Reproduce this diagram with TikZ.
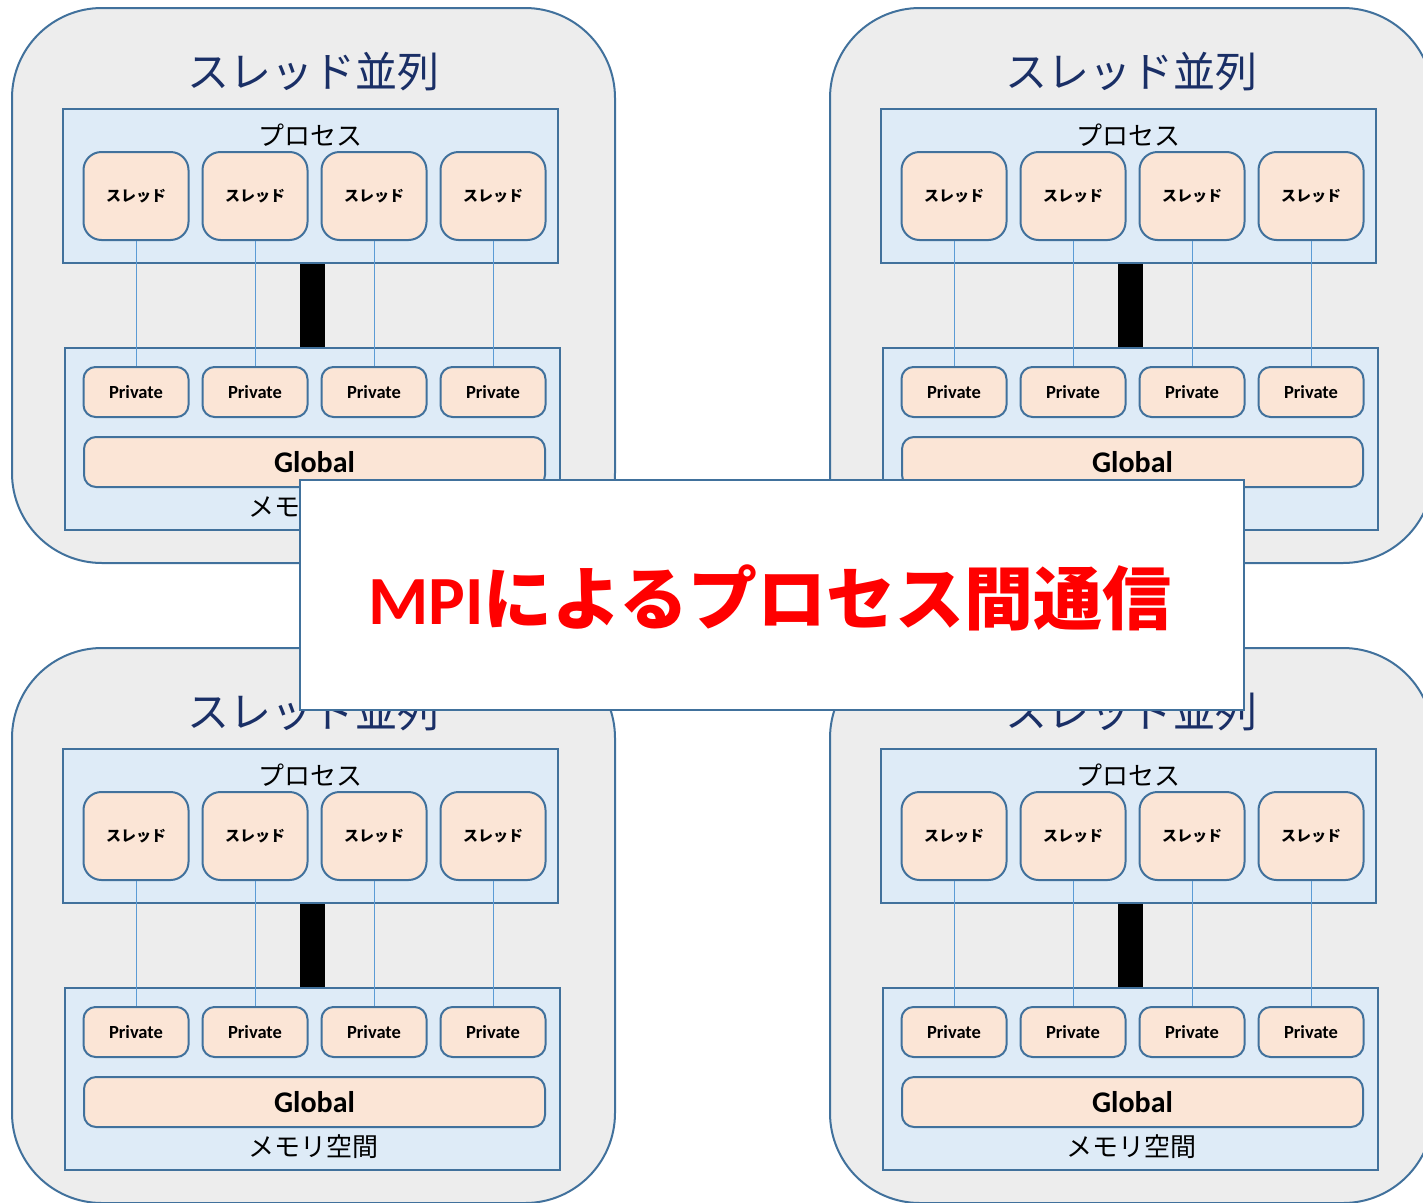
\documentclass[tikz,border=0pt]{standalone}
\usepackage{fontspec}
\setmainfont{Carlito}
\newfontfamily\cjk{Noto Sans CJK JP}
\usepackage{xcolor}
\usepackage{tikz}
\usetikzlibrary{positioning}
\definecolor{edge}{HTML}{41719C}
\definecolor{blockgray}{HTML}{EDEDED}
\definecolor{areablue}{HTML}{DEEBF7}
\definecolor{peach}{HTML}{FBE5D6}
\definecolor{linkblue}{HTML}{5B9BD5}
\definecolor{navy}{HTML}{1A2F66}
\tikzset{
  block/.style   ={draw=edge,fill=blockgray,line width=2pt,rounded corners=90pt,minimum width=603pt,minimum height=555pt,inner sep=0pt},
  area/.style    ={draw=edge,fill=areablue,line width=2pt,minimum width=495pt,inner sep=0pt},
  thread/.style  ={draw=edge,fill=peach,line width=2pt,rounded corners=18pt,minimum width=105pt,minimum height=88pt,inner sep=0pt,font=\cjk\bfseries\fontsize{15}{15}\selectfont},
  priv/.style    ={draw=edge,fill=peach,line width=2pt,rounded corners=12pt,minimum width=105pt,minimum height=50pt,inner sep=0pt,font=\bfseries\fontsize{18.5}{18.5}\selectfont},
  glob/.style    ={draw=edge,fill=peach,line width=2pt,rounded corners=12pt,minimum width=461pt,minimum height=50pt,inner sep=0pt,font=\bfseries\fontsize{30}{30}\selectfont},
  headline/.style={text=navy,inner sep=0pt,font=\cjk\fontsize{42}{42}\selectfont},
  lbl/.style     ={inner sep=0pt,font=\cjk\fontsize{26}{26}\selectfont},
  link/.style    ={linkblue,line width=1pt},
  bus/.style     ={black,line width=25pt},
  mpibox/.style  ={draw=edge,fill=white,line width=2pt,minimum width=944pt,minimum height=230pt,inner sep=0pt},
}

\begin{document}
\begin{tikzpicture}[x=1pt,y=-1pt]
  \useasboundingbox (0,0) rectangle (1423,1202);
  % four thread-parallel processes
  \foreach \dx/\dy/\n in {0/0/a,818/0/b,0/640/c,818/640/d}{
    \begin{scope}[shift={(\dx,\dy)}]
      \node[block] (\n-out) at (313.5,285.5) {};
      \node[headline] (\n-head) at (313,72) {スレッド並列};
      \node[area,minimum height=154pt] (\n-proc) at (310.5,186) {};
      \node[lbl] (\n-plbl) at (310,135) {プロセス};
      \node[area,minimum height=182pt] (\n-mem) at (312.5,439) {};
      \node[glob] (\n-glob) at (314.5,462) {Global};
      \node[lbl] (\n-mlbl) at (313,507) {メモリ空間};
      \draw[bus] (\n-proc.south -| \n-mem.north) -- (\n-mem.north);
      \foreach \i [evaluate=\i as \xx using 136+119*(\i-1)] in {1,...,4}{
        \node[thread] (\n-t\i) at (\xx,196) {スレッド};
        \node[priv]   (\n-p\i) at (\xx,392) {Private};
        \draw[link] (\n-t\i) -- (\n-p\i);
      }
    \end{scope}
  }
  % MPI between processes
  \node[mpibox] (mpi) at (772,595) {};
  \node[text=red,font=\bfseries\fontsize{69}{69}\selectfont] (mpilbl) at (770,598) {MPI{\cjk\bfseries によるプロセス間通信}};
\end{tikzpicture}
\end{document}
